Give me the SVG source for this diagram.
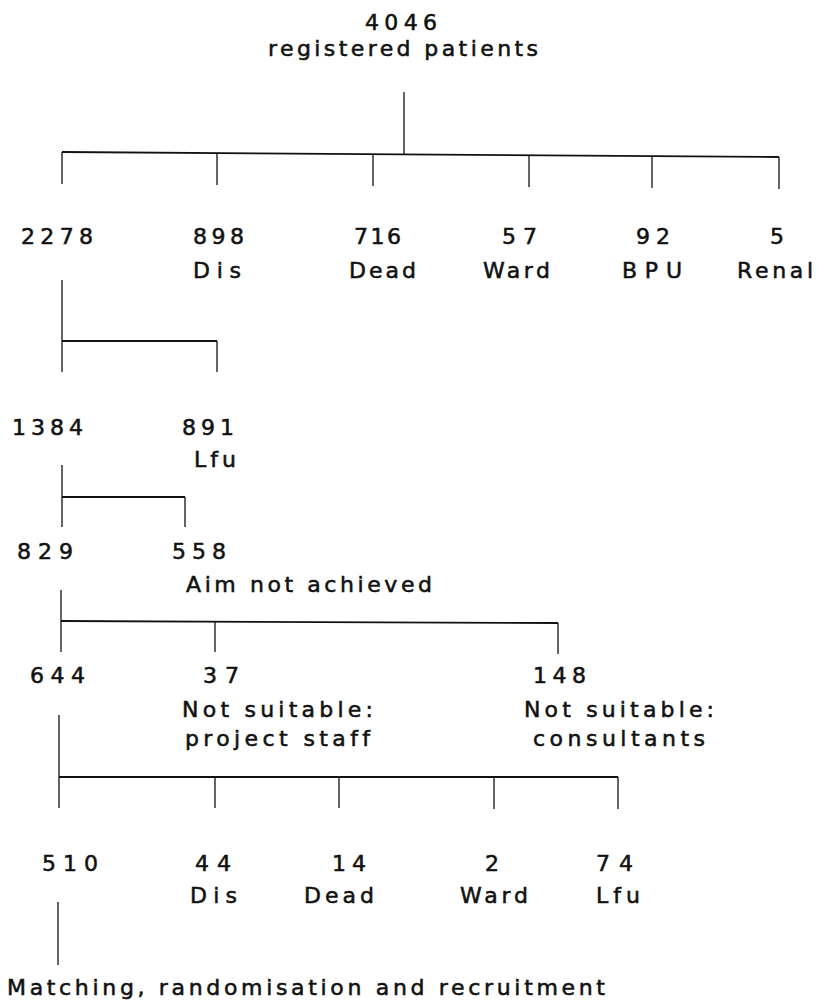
<svg xmlns="http://www.w3.org/2000/svg" width="817" height="1006" viewBox="0 0 817 1006">
<style>
text{font-family:"DejaVu Sans","Liberation Sans",Arial,sans-serif;font-size:22px;fill:#111;stroke:#111;stroke-width:0.55;font-variant-ligatures:none;}
.c line{stroke:#111;stroke-width:1.3;fill:none;}
.c .h{stroke-width:1.8;}
</style>
<rect width="817" height="1006" fill="#fff"/>
<g class="c" id="connectors">
<line x1="404" y1="92" x2="404" y2="154"/>
<line class="h" x1="62" y1="152" x2="779" y2="157"/>
<line x1="62" y1="152" x2="62" y2="184"/>
<line x1="217" y1="153" x2="217" y2="185"/>
<line x1="373" y1="154" x2="373" y2="186"/>
<line x1="529" y1="155" x2="529" y2="187"/>
<line x1="652" y1="156" x2="652" y2="188"/>
<line x1="779" y1="157" x2="779" y2="189"/>
<line x1="62" y1="280" x2="62" y2="372"/>
<line class="h" x1="62" y1="341" x2="217" y2="341"/>
<line x1="217" y1="341" x2="217" y2="372"/>
<line x1="62" y1="465" x2="62" y2="527"/>
<line class="h" x1="62" y1="497" x2="185" y2="497"/>
<line x1="185" y1="497" x2="185" y2="527"/>
<line x1="61" y1="590" x2="61" y2="652"/>
<line class="h" x1="61" y1="621" x2="558" y2="623"/>
<line x1="215" y1="622" x2="215" y2="652"/>
<line x1="558" y1="623" x2="558" y2="654"/>
<line x1="59" y1="715" x2="59" y2="808"/>
<line class="h" x1="59" y1="777" x2="618" y2="777"/>
<line x1="215" y1="777" x2="215" y2="808"/>
<line x1="339" y1="777" x2="339" y2="808"/>
<line x1="494" y1="777" x2="494" y2="809"/>
<line x1="618" y1="777" x2="618" y2="809"/>
<line x1="58" y1="902" x2="58" y2="965"/>
</g>
<g id="n-4046"><text x="365" y="30" textLength="72" lengthAdjust="spacing">4046</text><text x="268" y="56" textLength="270" lengthAdjust="spacing">registered patients</text></g>
<g id="n-2278"><text x="21" y="244" textLength="72" lengthAdjust="spacing">2278</text></g>
<g id="n-898"><text x="193" y="244" textLength="51" lengthAdjust="spacing">898</text><text x="193" y="278" textLength="48" lengthAdjust="spacing">Dis</text></g>
<g id="n-716"><text x="354" y="244" textLength="47" lengthAdjust="spacing">716</text><text x="349" y="278" textLength="67" lengthAdjust="spacing">Dead</text></g>
<g id="n-57"><text x="502" y="244" textLength="35" lengthAdjust="spacing">57</text><text x="483" y="278" textLength="67" lengthAdjust="spacing">Ward</text></g>
<g id="n-92"><text x="636" y="244" textLength="34" lengthAdjust="spacing">92</text><text x="622" y="278" textLength="60" lengthAdjust="spacing">BPU</text></g>
<g id="n-5"><text x="770" y="244">5</text><text x="737" y="278" textLength="76" lengthAdjust="spacing">Renal</text></g>
<g id="n-1384"><text x="12" y="435" textLength="71" lengthAdjust="spacing">1384</text></g>
<g id="n-891"><text x="182" y="435" textLength="52" lengthAdjust="spacing">891</text><text x="194" y="467" textLength="42" lengthAdjust="spacing">Lfu</text></g>
<g id="n-829"><text x="17" y="559" textLength="56" lengthAdjust="spacing">829</text></g>
<g id="n-558"><text x="172" y="559" textLength="54" lengthAdjust="spacing">558</text><text x="186" y="592" textLength="246" lengthAdjust="spacing">Aim not achieved</text></g>
<g id="n-644"><text x="30" y="683" textLength="55" lengthAdjust="spacing">644</text></g>
<g id="n-37"><text x="203" y="683" textLength="36" lengthAdjust="spacing">37</text><text x="182" y="717" textLength="191" lengthAdjust="spacing">Not suitable:</text><text x="185" y="746" textLength="185" lengthAdjust="spacing">project staff</text></g>
<g id="n-148"><text x="533" y="683" textLength="53" lengthAdjust="spacing">148</text><text x="524" y="717" textLength="190" lengthAdjust="spacing">Not suitable:</text><text x="533" y="746" textLength="172" lengthAdjust="spacing">consultants</text></g>
<g id="n-510"><text x="42" y="871" textLength="56" lengthAdjust="spacing">510</text></g>
<g id="n-44"><text x="195" y="871" textLength="36" lengthAdjust="spacing">44</text><text x="190" y="903" textLength="47" lengthAdjust="spacing">Dis</text></g>
<g id="n-14"><text x="332" y="871" textLength="34" lengthAdjust="spacing">14</text><text x="304" y="903" textLength="70" lengthAdjust="spacing">Dead</text></g>
<g id="n-2"><text x="485" y="871">2</text><text x="460" y="903" textLength="68" lengthAdjust="spacing">Ward</text></g>
<g id="n-74"><text x="596" y="871" textLength="37" lengthAdjust="spacing">74</text><text x="596" y="903" textLength="44" lengthAdjust="spacing">Lfu</text></g>
<g id="n-final"><text x="7" y="995" textLength="598" lengthAdjust="spacing">Matching, randomisation and recruitment</text></g>
</svg>
